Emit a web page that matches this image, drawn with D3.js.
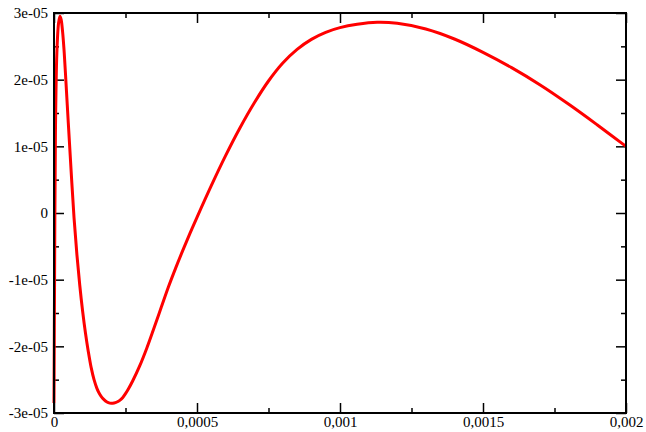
<!DOCTYPE html>
<html>
<head>
<meta charset="utf-8">
<script src="https://cdn.jsdelivr.net/npm/d3@7"></script>
<style>
  html, body { margin: 0; padding: 0; background: #fff; }
</style>
</head>
<body>
<div id="chart"></div>
<script>
// curve samples (x, y)
const xValues = [0, 0.000002, 0.000005, 0.00001, 0.000016, 0.000021, 0.000025, 0.00003,
    0.000035, 0.00004, 0.00005, 0.00006, 0.00007, 0.00008, 0.00009, 0.0001,
    0.00011, 0.00012, 0.00013, 0.00014, 0.00015, 0.00016, 0.00017, 0.00018, 0.00019, 0.0002,
    0.00021, 0.00022, 0.00023, 0.00024, 0.00025, 0.00026, 0.000275, 0.0003, 0.000325, 0.00035,
    0.000375, 0.0004, 0.000425, 0.00045, 0.000475, 0.0005, 0.00055,
    0.0006, 0.00065, 0.0007, 0.00075, 0.0008, 0.00085, 0.0009, 0.00095,
    0.001, 0.00106, 0.00113, 0.0012, 0.0013, 0.0014, 0.0015, 0.0016,
    0.0017, 0.0018, 0.0019, 0.002];
const yValues = [-2.85e-5, -1.0e-5, 1.2e-5, 2.4e-5, 2.85e-5, 2.95e-5, 2.90e-5, 2.72e-5,
    2.45e-5, 2.10e-5, 1.35e-5, 0.62e-5, -0.07e-5, -0.62e-5, -1.08e-5, -1.47e-5,
    -1.80e-5, -2.08e-5, -2.32e-5, -2.50e-5, -2.63e-5, -2.72e-5, -2.78e-5, -2.82e-5, -2.845e-5, -2.855e-5,
    -2.85e-5, -2.835e-5, -2.81e-5, -2.77e-5, -2.71e-5, -2.64e-5, -2.52e-5, -2.29e-5, -2.02e-5, -1.72e-5,
    -1.415e-5, -1.11e-5, -0.83e-5, -0.565e-5, -0.31e-5, -0.065e-5, 0.41e-5,
    0.86e-5, 1.275e-5, 1.65e-5, 1.98e-5, 2.25e-5, 2.455e-5, 2.605e-5, 2.71e-5,
    2.78e-5, 2.83e-5, 2.86e-5, 2.845e-5, 2.76e-5, 2.61e-5, 2.41e-5, 2.18e-5,
    1.92e-5, 1.63e-5, 1.32e-5, 1.0e-5];

const xTicks = [0, 0.0005, 0.001, 0.0015, 0.002];
const xTickLabels = ["0", "0,0005", "0,001", "0,0015", "0,002"];
const xMinorTicks = [0.00025, 0.00075, 0.00125, 0.00175];
const yTicks = [-3e-5, -2e-5, -1e-5, 0, 1e-5, 2e-5, 3e-5];
const yTickLabels = ["-3e-05", "-2e-05", "-1e-05", "0", "1e-05", "2e-05", "3e-05"];
const yMinorTicks = [-2.5e-5, -1.5e-5, -0.5e-5, 0.5e-5, 1.5e-5, 2.5e-5];

const width = 646, height = 432;
const margin = {top: 13, right: 20, bottom: 19, left: 54};
const labelFont = "'Liberation Serif', 'Times New Roman', serif";

const svg = d3.select("#chart").append("svg")
    .attr("width", width)
    .attr("height", height);

const x = d3.scaleLinear().domain([0, 0.002]).range([margin.left, width - margin.right]);
const y = d3.scaleLinear().domain([-3e-5, 3e-5]).range([height - margin.bottom, margin.top]);

// axes, ticks pointing inward on all four sides
function styleAxis(g) {
    g.attr("font-family", labelFont).attr("font-size", 15);
    g.select(".domain").remove();
    g.selectAll(".tick line").attr("stroke", "#000").attr("stroke-width", 1.5);
    g.selectAll(".tick text").attr("fill", "#000");
}

svg.append("g")
    .attr("transform", `translate(0,${y.range()[0]})`)
    .call(d3.axisBottom(x).tickValues(xTicks).tickSizeInner(-10).tickSizeOuter(0)
        .tickFormat((d, i) => xTickLabels[i]))
    .call(styleAxis)
    .call(g => g.selectAll(".tick text").attr("y", 3).attr("dy", "0.71em"));

svg.append("g")
    .attr("transform", `translate(0,${y.range()[0]})`)
    .call(d3.axisBottom(x).tickValues(xMinorTicks).tickSizeInner(-5).tickSizeOuter(0).tickFormat(""))
    .call(styleAxis);

svg.append("g")
    .attr("transform", `translate(0,${y.range()[1]})`)
    .call(d3.axisTop(x).tickValues(xTicks).tickSizeInner(-10).tickSizeOuter(0).tickFormat(""))
    .call(styleAxis);

svg.append("g")
    .attr("transform", `translate(0,${y.range()[1]})`)
    .call(d3.axisTop(x).tickValues(xMinorTicks).tickSizeInner(-5).tickSizeOuter(0).tickFormat(""))
    .call(styleAxis);

svg.append("g")
    .attr("transform", `translate(${x.range()[0]},0)`)
    .call(d3.axisLeft(y).tickValues(yTicks).tickSizeInner(-10).tickSizeOuter(0)
        .tickFormat((d, i) => yTickLabels[i]))
    .call(styleAxis)
    .call(g => g.selectAll(".tick text").attr("x", -6));

svg.append("g")
    .attr("transform", `translate(${x.range()[0]},0)`)
    .call(d3.axisLeft(y).tickValues(yMinorTicks).tickSizeInner(-5).tickSizeOuter(0).tickFormat(""))
    .call(styleAxis);

svg.append("g")
    .attr("transform", `translate(${x.range()[1]},0)`)
    .call(d3.axisRight(y).tickValues(yTicks).tickSizeInner(-10).tickSizeOuter(0).tickFormat(""))
    .call(styleAxis);

svg.append("g")
    .attr("transform", `translate(${x.range()[1]},0)`)
    .call(d3.axisRight(y).tickValues(yMinorTicks).tickSizeInner(-5).tickSizeOuter(0).tickFormat(""))
    .call(styleAxis);

// the curve
const line = d3.line()
    .x(i => x(xValues[i]))
    .y(i => y(yValues[i]))
    .curve(d3.curveCatmullRom.alpha(0.5));

svg.append("path")
    .datum(d3.range(xValues.length))
    .attr("fill", "none")
    .attr("stroke", "#ff0000")
    .attr("stroke-width", 3)
    .attr("stroke-linejoin", "round")
    .attr("d", line);

// frame
svg.append("rect")
    .attr("x", x.range()[0])
    .attr("y", y.range()[1])
    .attr("width", x.range()[1] - x.range()[0])
    .attr("height", y.range()[0] - y.range()[1])
    .attr("fill", "none")
    .attr("stroke", "#000")
    .attr("stroke-width", 2);
</script>
</body>
</html>
